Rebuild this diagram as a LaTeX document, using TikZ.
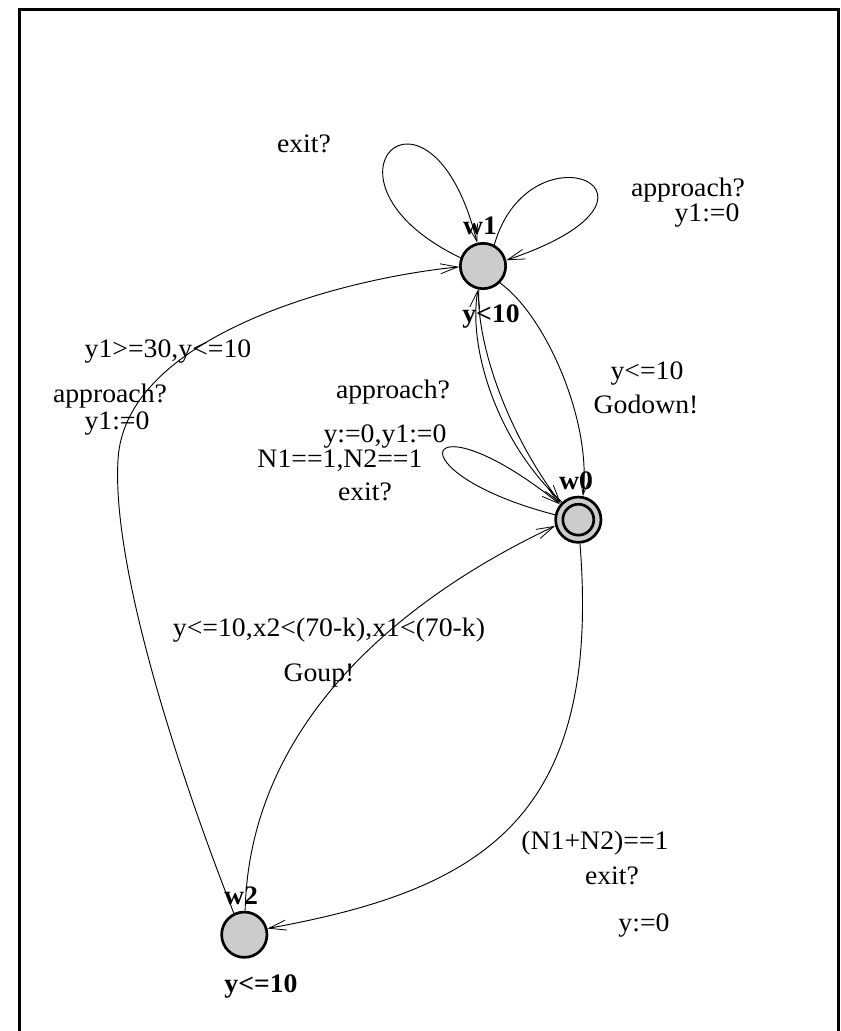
\documentclass[tikz,border=0pt]{standalone}
\usepackage{fontspec}
\setmainfont{Liberation Serif}[FakeStretch=1.04]
\usetikzlibrary{arrows.meta}
\tikzset{
  state/.style={circle, draw, line width=2pt, fill=gray!40, minimum size=34pt, inner sep=0pt},
  lab/.style={font=\fontsize{20}{23}\selectfont, inner sep=0pt},
  blab/.style={font=\fontsize{20}{23}\selectfont\bfseries, inner sep=0pt},
  edge/.style={line width=0.7pt},
  arr/.style={edge, -{Straight Barb[length=13pt,width=7.5pt,line width=0.6pt]}}
}
\begin{document}
\begin{tikzpicture}[x=0.75pt,y=-0.75pt]
\useasboundingbox (0,0) rectangle (840,1031);
\draw[line width=2.25pt] (19.5,1031) -- (19.5,9.5) -- (838.5,9.5) -- (838.5,1031);

% states
\node[state] (w1) at (483,266) {};
\node[state] (w0) at (578.3,519.7) {};
\draw[line width=2pt] (w0.center) circle[radius=11.6pt];
\node[state] (w2) at (244.3,934.7) {};

% state labels
\node[blab] (nw1) at (480,226) {w1};
\node[blab] (iw1) at (491,317) {y<10};
\node[blab] (nw0) at (576,481) {w0};
\node[blab] (nw2) at (241,896) {w2};
\node[blab] (iw2) at (261,986) {y<=10};

% edges
\draw[arr] (w1.160) .. controls (300,180) and (430,55) .. (w1.104);
\draw[arr] (w1.62) .. controls (530,120) and (700,195) .. (w1.14);
\draw[arr] (w1.-45) .. controls (545,315) and (592,420) .. (w0.79);
\draw[arr] (w0.133) .. controls (495,440) and (468,345) .. (w1.258);
\draw[arr] (w1.260) .. controls (476,340) and (505,430) .. (w0.137);
\draw[arr] (w0.168) .. controls (390,472) and (420,392) .. (w0.140);
\draw[arr] (w2.88) .. controls (250,700) and (440,580) .. (w0.195);
\draw[arr] (w0.-86) .. controls (602,820) and (480,890) .. (w2.15);
\coordinate (m2) at (118,460);
\draw[arr] (w2.116) .. controls (170,750) and (112,560) .. (m2)
  .. controls (124,340) and (330,280) .. (w1.182);

% edge labels
\node[lab] (l1) at (304,144) {exit?};
\node[lab] (l2) at (688,190) {approach?};
\node[lab] (l3) at (707,216) {y1:=0};
\node[lab] (l4) at (168,352) {y1>=30,y<=10};
\node[lab] (l5) at (110,396) {approach?};
\node[lab] (l6) at (117,424) {y1:=0};
\node[lab] (l7) at (393,392) {approach?};
\node[lab] (l8) at (385,437) {y:=0,y1:=0};
\node[lab] (l9) at (340,461) {N1==1,N2==1};
\node[lab] (l10) at (365,492) {exit?};
\node[lab] (l11) at (647,374) {y<=10};
\node[lab] (l12) at (646,404) {Godown!};
\node[lab] (l13) at (329,630) {y<=10,x2<(70-k),x1<(70-k)};
\node[lab] (l14) at (319,676) {Goup!};
\node[lab] (l15) at (595,843) {(N1+N2)==1};
\node[lab] (l16) at (612,876) {exit?};
\node[lab] (l17) at (644,925) {y:=0};
\end{tikzpicture}
\end{document}
